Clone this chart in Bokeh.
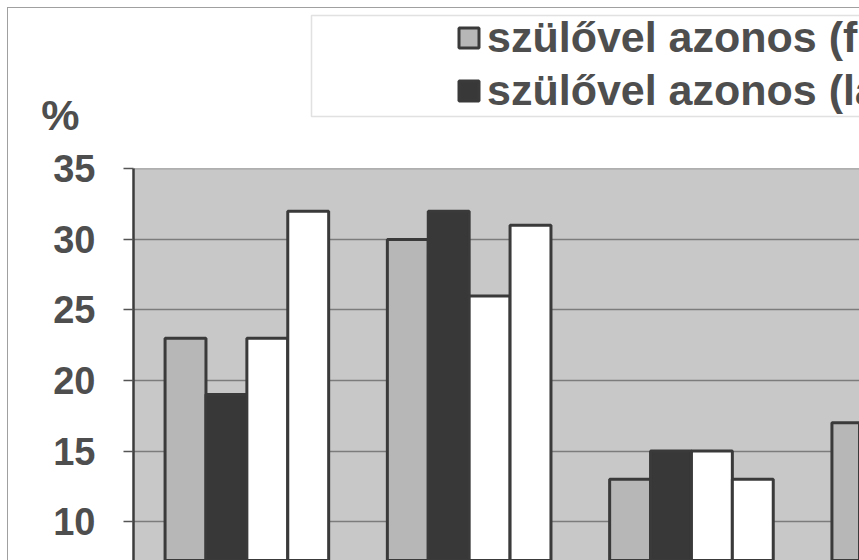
from bokeh.plotting import figure
from bokeh.layouts import column
from bokeh.models import (ColumnDataSource, FixedTicker, Legend, LegendItem,
                          Label, BoxAnnotation, Range1d)
from bokeh.embed import file_html
from bokeh.resources import INLINE

# ---- data ----
categories = ["1", "2", "3", "4"]
series_names = ["szülővel azonos (fiú)", "szülővel azonos (lány)",
                "szülőtől eltérő (fiú)", "szülőtől eltérő (lány)"]
s1_values = [23, 30, 13, 17]
s2_values = [19, 32, 15, float("nan")]
s3_values = [23, 26, 15, float("nan")]
s4_values = [32, 31, 13, float("nan")]
y_ticks = [5, 10, 15, 20, 25, 30, 35]
y_label = "%"

# ---- style ----
fills = ["#b7b7b7", "#383838", "#ffffff", "#ffffff"]
edge = "#3a3a3a"
text_col = "#4e4e4e"
font = "Liberation Sans"
bar_w = 0.184
offsets = [-1.5 * bar_w, -0.5 * bar_w, 0.5 * bar_w, 1.5 * bar_w]

all_series = [s1_values, s2_values, s3_values, s4_values]
sources = [ColumnDataSource(dict(x=[i + offsets[k] for i in range(len(categories))],
                                 top=vals))
           for k, vals in enumerate(all_series)]

# ---------- top strip: legend and unit label ----------
top = figure(width=851, height=132, output_backend="svg", toolbar_location=None,
             x_axis_location=None, y_axis_location=None,
             x_range=Range1d(-0.51, 2.756), y_range=Range1d(0, 1),
             min_border_left=125, min_border_right=0,
             min_border_top=0, min_border_bottom=0)
top.outline_line_color = None
top.grid.grid_line_color = None
top.background_fill_color = "white"
top.border_fill_color = "white"

top.add_layout(BoxAnnotation(left=178, right=1200, top=125, bottom=24,
                             left_units="screen", right_units="screen",
                             top_units="screen", bottom_units="screen",
                             fill_color="white", fill_alpha=1.0,
                             line_color="#9a9a9a", line_width=1.5))

legend_rs = []
for k in range(4):
    r = top.vbar(x="x", top="top", bottom=0, width=bar_w, source=sources[k],
                 fill_color=fills[k], line_color=edge, line_width=3, visible=False)
    legend_rs.append(r)

legend = Legend(items=[LegendItem(label=series_names[k], renderers=[legend_rs[k]])
                       for k in range(4)],
                location=(323, 25), nrows=2,
                glyph_width=25, glyph_height=25, label_standoff=6,
                spacing=4, padding=0, margin=0,
                border_line_alpha=0, background_fill_alpha=0,
                inactive_fill_alpha=0,
                label_text_font=font, label_text_font_style="bold",
                label_text_font_size="43px", label_text_color=text_col)
top.add_layout(legend, "center")

top.add_layout(Label(x=-16, y=26, x_units="screen", y_units="screen", text=y_label,
                     text_align="right", text_baseline="middle",
                     text_font=font, text_font_style="bold", text_font_size="43px",
                     text_color=text_col), "left")

# ---------- main bar chart ----------
p = figure(width=851, height=420, output_backend="svg", toolbar_location=None,
           x_range=Range1d(-0.51, 2.756),
           y_range=Range1d(7.24, 35.03),
           x_axis_location=None,
           min_border_left=125, min_border_top=28,
           min_border_right=0, min_border_bottom=0)
p.background_fill_color = "#c8c8c8"
p.border_fill_color = "white"
p.outline_line_color = None

p.xgrid.grid_line_color = None
p.ygrid.ticker = FixedTicker(ticks=y_ticks)
p.ygrid.grid_line_color = "#7c7c7c"
p.ygrid.grid_line_width = 1.6

ax = p.yaxis[0]
ax.ticker = FixedTicker(ticks=y_ticks)
ax.minor_tick_line_color = None
ax.major_tick_in = 0
ax.major_tick_out = 10
ax.major_tick_line_color = "#555555"
ax.major_tick_line_width = 1.5
ax.axis_line_color = "#3c3c3c"
ax.axis_line_width = 2.5
ax.major_label_standoff = 28
ax.major_label_text_font = font
ax.major_label_text_font_style = "bold"
ax.major_label_text_font_size = "38px"
ax.major_label_text_color = text_col

for k in range(4):
    p.vbar(x="x", top="top", bottom=0, width=bar_w, source=sources[k],
           fill_color=fills[k], line_color=edge, line_width=3)

layout = column(top, p, spacing=0,
                styles={"margin-left": "7px", "margin-top": "7px",
                        "border-left": "1px solid #a0a0a0",
                        "border-top": "1px solid #a0a0a0"})

open("out.html", "w").write(file_html(layout, INLINE))
